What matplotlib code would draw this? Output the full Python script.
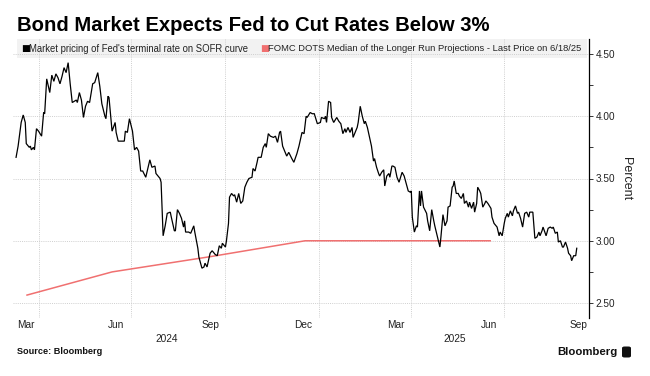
import matplotlib
matplotlib.use("Agg")
import matplotlib.pyplot as plt
from matplotlib.patches import Rectangle, FancyBboxPatch
import pandas as pd

# ---------------- data ----------------
title = "Bond Market Expects Fed to Cut Rates Below 3%"
series1_name = "Market pricing of Fed's terminal rate on SOFR curve"
series2_name = "FOMC DOTS Median of the Longer Run Projections - Last Price on 6/18/25"

market_dates = [
    "2024-03-10", "2024-03-12", "2024-03-15", "2024-03-17", "2024-03-19", "2024-03-20", "2024-03-23", "2024-03-24",
    "2024-03-25", "2024-03-27", "2024-03-28", "2024-03-30", "2024-04-01", "2024-04-04", "2024-04-06", "2024-04-07",
    "2024-04-09", "2024-04-12", "2024-04-14", "2024-04-16", "2024-04-18", "2024-04-20", "2024-04-22", "2024-04-24",
    "2024-04-26", "2024-04-28", "2024-04-30", "2024-05-02", "2024-05-04", "2024-05-06", "2024-05-08", "2024-05-09",
    "2024-05-11", "2024-05-13", "2024-05-15", "2024-05-17", "2024-05-19", "2024-05-21", "2024-05-24", "2024-05-26",
    "2024-05-29", "2024-05-31", "2024-06-02", "2024-06-05", "2024-06-06", "2024-06-08", "2024-06-09", "2024-06-12",
    "2024-06-15", "2024-06-16", "2024-06-18", "2024-06-21", "2024-06-24", "2024-06-25", "2024-06-27", "2024-06-29",
    "2024-07-02", "2024-07-04", "2024-07-06", "2024-07-08", "2024-07-10", "2024-07-12", "2024-07-15", "2024-07-17",
    "2024-07-19", "2024-07-21", "2024-07-24", "2024-07-25", "2024-07-29", "2024-07-30", "2024-08-01", "2024-08-03",
    "2024-08-05", "2024-08-08", "2024-08-09", "2024-08-12", "2024-08-13", "2024-08-15", "2024-08-17", "2024-08-19",
    "2024-08-21", "2024-08-22", "2024-08-23", "2024-08-26", "2024-08-28", "2024-08-31", "2024-09-01", "2024-09-04",
    "2024-09-05", "2024-09-08", "2024-09-10", "2024-09-11", "2024-09-13", "2024-09-16", "2024-09-18", "2024-09-21",
    "2024-09-23", "2024-09-25", "2024-09-27", "2024-09-28", "2024-10-01", "2024-10-02", "2024-10-04", "2024-10-05",
    "2024-10-07", "2024-10-09", "2024-10-10", "2024-10-12", "2024-10-14", "2024-10-16", "2024-10-18", "2024-10-20",
    "2024-10-22", "2024-10-24", "2024-10-27", "2024-10-28", "2024-10-30", "2024-11-01", "2024-11-02", "2024-11-05",
    "2024-11-07", "2024-11-09", "2024-11-10", "2024-11-12", "2024-11-14", "2024-11-17", "2024-11-19", "2024-11-21",
    "2024-11-23", "2024-11-24", "2024-11-26", "2024-11-28", "2024-11-30", "2024-12-02", "2024-12-05", "2024-12-07",
    "2024-12-10", "2024-12-12", "2024-12-15", "2024-12-17", "2024-12-19", "2024-12-20", "2024-12-23", "2024-12-25",
    "2024-12-27", "2024-12-30", "2025-01-02", "2025-01-03", "2025-01-06", "2025-01-07", "2025-01-08", "2025-01-10",
    "2025-01-12", "2025-01-13", "2025-01-15", "2025-01-18", "2025-01-20", "2025-01-22", "2025-01-24", "2025-01-26",
    "2025-01-27", "2025-01-29", "2025-01-31", "2025-02-02", "2025-02-03", "2025-02-05", "2025-02-07", "2025-02-08",
    "2025-02-10", "2025-02-12", "2025-02-14", "2025-02-15", "2025-02-17", "2025-02-20", "2025-02-21", "2025-02-23",
    "2025-02-24", "2025-02-26", "2025-02-28", "2025-03-01", "2025-03-03", "2025-03-05", "2025-03-06", "2025-03-08",
    "2025-03-10", "2025-03-11", "2025-03-13", "2025-03-14", "2025-03-16", "2025-03-18", "2025-03-20", "2025-03-23",
    "2025-03-25", "2025-03-27", "2025-03-29", "2025-03-31", "2025-04-01", "2025-04-02", "2025-04-04", "2025-04-06",
    "2025-04-07", "2025-04-09", "2025-04-10", "2025-04-11", "2025-04-13", "2025-04-16", "2025-04-17", "2025-04-19",
    "2025-04-21", "2025-04-23", "2025-04-24", "2025-04-27", "2025-04-29", "2025-04-30", "2025-05-02", "2025-05-04",
    "2025-05-06", "2025-05-07", "2025-05-09", "2025-05-11", "2025-05-12", "2025-05-13", "2025-05-15", "2025-05-17",
    "2025-05-18", "2025-05-20", "2025-05-22", "2025-05-23", "2025-05-25", "2025-05-27", "2025-05-28", "2025-05-30",
    "2025-06-01", "2025-06-02", "2025-06-04", "2025-06-05", "2025-06-07", "2025-06-08", "2025-06-10", "2025-06-12",
    "2025-06-13", "2025-06-15", "2025-06-18", "2025-06-19", "2025-06-21", "2025-06-23", "2025-06-24", "2025-06-26",
    "2025-06-27", "2025-06-29", "2025-07-01", "2025-07-02", "2025-07-04", "2025-07-05", "2025-07-07", "2025-07-09",
    "2025-07-10", "2025-07-12", "2025-07-14", "2025-07-15", "2025-07-17", "2025-07-19", "2025-07-21", "2025-07-23",
    "2025-07-25", "2025-07-26", "2025-07-29", "2025-07-31", "2025-08-02", "2025-08-04", "2025-08-05", "2025-08-07",
    "2025-08-08", "2025-08-11", "2025-08-13", "2025-08-15", "2025-08-17", "2025-08-18", "2025-08-20", "2025-08-22",
    "2025-08-23", "2025-08-25", "2025-08-27", "2025-08-28", "2025-08-30", "2025-09-01", "2025-09-02", "2025-09-04",
    "2025-09-05", "2025-09-07", "2025-09-09", "2025-09-10",
]
market_values = [
    3.67, 3.76, 3.95, 4.01, 3.95, 3.78, 3.75, 3.76,
    3.73, 3.75, 3.73, 3.90, 3.88, 3.84, 4.03, 4.02,
    4.30, 4.19, 4.33, 4.28, 4.34, 4.31, 4.26, 4.32,
    4.39, 4.35, 4.43, 4.26, 4.11, 4.12, 4.13, 4.11,
    4.19, 4.13, 3.99, 4.08, 4.12, 4.11, 4.26, 4.27,
    4.35, 4.24, 4.10, 4.00, 3.98, 4.16, 4.15, 3.88,
    3.95, 3.87, 3.80, 3.80, 3.80, 3.88, 3.87, 3.98,
    3.88, 3.73, 3.75, 3.72, 3.56, 3.56, 3.51, 3.58,
    3.65, 3.59, 3.60, 3.54, 3.50, 3.47, 3.04, 3.12,
    3.22, 3.23, 3.19, 3.08, 3.08, 3.25, 3.22, 3.18,
    3.11, 3.16, 3.07, 3.07, 3.06, 3.12, 3.07, 2.94,
    2.87, 2.78, 2.79, 2.82, 2.79, 2.90, 2.92, 2.89,
    2.88, 2.96, 2.94, 2.98, 2.95, 3.00, 3.14, 3.35,
    3.38, 3.36, 3.37, 3.31, 3.38, 3.30, 3.32, 3.43,
    3.47, 3.50, 3.51, 3.58, 3.56, 3.63, 3.67, 3.67,
    3.75, 3.78, 3.75, 3.86, 3.84, 3.83, 3.84, 3.79,
    3.87, 3.88, 3.76, 3.72, 3.68, 3.71, 3.66, 3.63,
    3.70, 3.76, 3.87, 3.86, 4.00, 3.99, 4.03, 4.02,
    4.02, 3.94, 3.95, 3.99, 3.98, 4.00, 3.95, 4.12,
    4.11, 3.99, 3.95, 3.99, 3.96, 3.94, 3.86, 3.90,
    3.87, 3.91, 3.87, 3.91, 3.83, 3.87, 3.91, 3.95,
    4.08, 4.00, 3.94, 3.96, 3.91, 3.80, 3.76, 3.64,
    3.66, 3.59, 3.54, 3.52, 3.55, 3.57, 3.44, 3.52,
    3.54, 3.51, 3.60, 3.60, 3.59, 3.51, 3.47, 3.55,
    3.52, 3.46, 3.40, 3.39, 3.40, 3.19, 3.07, 3.12,
    3.11, 3.40, 3.28, 3.40, 3.27, 3.22, 3.16, 3.08,
    3.25, 3.16, 3.12, 3.02, 2.95, 3.03, 3.21, 3.12,
    3.16, 3.27, 3.28, 3.43, 3.44, 3.48, 3.38, 3.38,
    3.36, 3.34, 3.38, 3.30, 3.32, 3.27, 3.31, 3.26,
    3.31, 3.23, 3.30, 3.43, 3.40, 3.38, 3.27, 3.30,
    3.32, 3.30, 3.26, 3.19, 3.14, 3.12, 3.11, 3.04,
    3.07, 3.04, 3.14, 3.18, 3.22, 3.19, 3.24, 3.20,
    3.24, 3.28, 3.22, 3.23, 3.18, 3.11, 3.22, 3.23,
    3.19, 3.23, 3.23, 3.02, 3.03, 3.07, 3.04, 3.08,
    3.11, 3.04, 3.10, 3.11, 3.10, 3.11, 3.06, 3.07,
    2.99, 3.00, 2.95, 2.95, 2.99, 2.94, 2.90, 2.88,
    2.84, 2.88, 2.88, 2.94,
]

dots_dates = ["2024-03-20", "2024-06-12", "2024-09-18", "2024-12-18", "2025-03-19", "2025-06-18"]
dots_values = [2.5625, 2.75, 2.875, 3.0, 3.0, 3.0]

y_ticks = [2.50, 3.00, 3.50, 4.00, 4.50]
y_tick_labels = ["2.50", "3.00", "3.50", "4.00", "4.50"]
month_labels = [("2024-03", "Mar"), ("2024-06", "Jun"), ("2024-09", "Sep"), ("2024-12", "Dec"),
                ("2025-03", "Mar"), ("2025-06", "Jun"), ("2025-09", "Sep")]
year_labels = ["2024", "2025"]
x_start, x_end = "2024-03-07", "2025-09-22"

# ---------------- figure ----------------
W, H = 650, 376
FONT = "Liberation Sans"
plt.rcParams["font.family"] = [FONT, "DejaVu Sans"]
fig = plt.figure(figsize=(W / 100, H / 100), dpi=100)
fig.patch.set_facecolor("white")

ax_l, ax_r, ax_t, ax_b = 13, 589, 39, 318
ax = fig.add_axes([ax_l / W, 1 - ax_b / H, (ax_r - ax_l) / W, (ax_b - ax_t) / H])
ax.set_facecolor("white")

xd = pd.to_datetime(market_dates)
dd = pd.to_datetime(dots_dates)
x0, x1 = pd.Timestamp(x_start), pd.Timestamp(x_end)
ax.set_xlim(x0, x1)
ax.set_ylim(2.38, 4.62)

# legend background band (under grid)
ax.add_patch(Rectangle((16.7 / W, 1 - 58 / H), (587 - 16.7) / W, 19 / H,
                       transform=fig.transFigure, facecolor="#f2f2f2", edgecolor="none",
                       zorder=0.5, clip_on=False))

grid_kw = dict(color="#cfcfcf", lw=0.7, ls=(0, (1, 1.2)), zorder=1)
for yv in y_ticks:
    ax.axhline(yv, **grid_kw)
# vertical grid lines at the month boundary following each labelled month
for ym, _ in month_labels:
    b = pd.Timestamp(ym + "-01") + pd.offsets.MonthBegin(1)
    if x0 < b < x1:
        ax.axvline(b, **grid_kw)

ax.plot(dd, dots_values, color="#f07070", lw=1.1, zorder=2, solid_capstyle="butt")
ax.plot(xd, market_values, color="black", lw=0.9, zorder=3, solid_joinstyle="miter")

# spines / ticks
for s in ["left", "top", "bottom"]:
    ax.spines[s].set_visible(False)
ax.spines["right"].set_color("black")
ax.spines["right"].set_linewidth(0.9)
ax.yaxis.tick_right()
ax.set_yticks(y_ticks)
ax.set_yticklabels(y_tick_labels)
ax.set_yticks([2.75, 3.25, 3.75, 4.25], minor=True)
ax.tick_params(axis="y", which="both", direction="out", length=3, width=0.7,
               color="#333333", pad=1.5, labelsize=7.2, labelcolor="#222222")
ax.set_xticks([])
ax.yaxis.set_label_position("right")
ax.set_ylabel("Percent", rotation=270, fontsize=9, color="#222222", labelpad=12)

# month labels centred on the visible part of each month
for ym, lab in month_labels:
    ms = pd.Timestamp(ym + "-01")
    me = ms + pd.offsets.MonthBegin(1)
    c = max(ms, x0) + (min(me, x1) - max(ms, x0)) / 2
    ax.annotate(lab, xy=(c, 0), xycoords=("data", "axes fraction"), xytext=(0, -7.5 * 0.72),
                textcoords="offset points", ha="center", va="center", fontsize=7.3, color="#222222")
# year labels centred on the visible part of each year
for yl in year_labels:
    ys = pd.Timestamp(yl + "-01-01")
    ye = pd.Timestamp(str(int(yl) + 1) + "-01-01")
    c = max(ys, x0) + (min(ye, x1) - max(ys, x0)) / 2
    ax.annotate(yl, xy=(c, 0), xycoords=("data", "axes fraction"), xytext=(0, -21 * 0.72),
                textcoords="offset points", ha="center", va="center", fontsize=7.3, color="#222222")

# title
fig.text(17 / W, 1 - 30.7 / H, title, ha="left", va="baseline", fontsize=14.6,
         fontweight="bold", color="black")

# legend entries
ly = 1 - 48.5 / H
fig.text(21.5 / W, ly, "■", family="DejaVu Sans", fontsize=6.8, va="center", ha="left", color="black")
fig.text(29 / W, ly, series1_name, fontsize=6.85, va="center", ha="left", color="#222222")
fig.text(260 / W, ly, "■", family="DejaVu Sans", fontsize=6.8, va="center", ha="left", color="#f07070")
fig.text(268.5 / W, ly, series2_name, fontsize=6.75, va="center", ha="left", color="#222222")

# footer
fig.text(17 / W, 1 - 352 / H, "Source: Bloomberg", fontsize=6.6, fontweight="bold",
         va="center", ha="left", color="#111111")
fig.text(618 / W, 1 - 352 / H, "Bloomberg", fontsize=8.2, fontweight="bold",
         va="center", ha="right", color="#111111")
fig.patches.append(FancyBboxPatch((622 / W, 1 - 357.5 / H), 9 / W, 11 / H,
                                  boxstyle="round,pad=0,rounding_size=0.004",
                                  transform=fig.transFigure, facecolor="#111111", edgecolor="none"))

fig.savefig("out.png", dpi=100, facecolor="white")
